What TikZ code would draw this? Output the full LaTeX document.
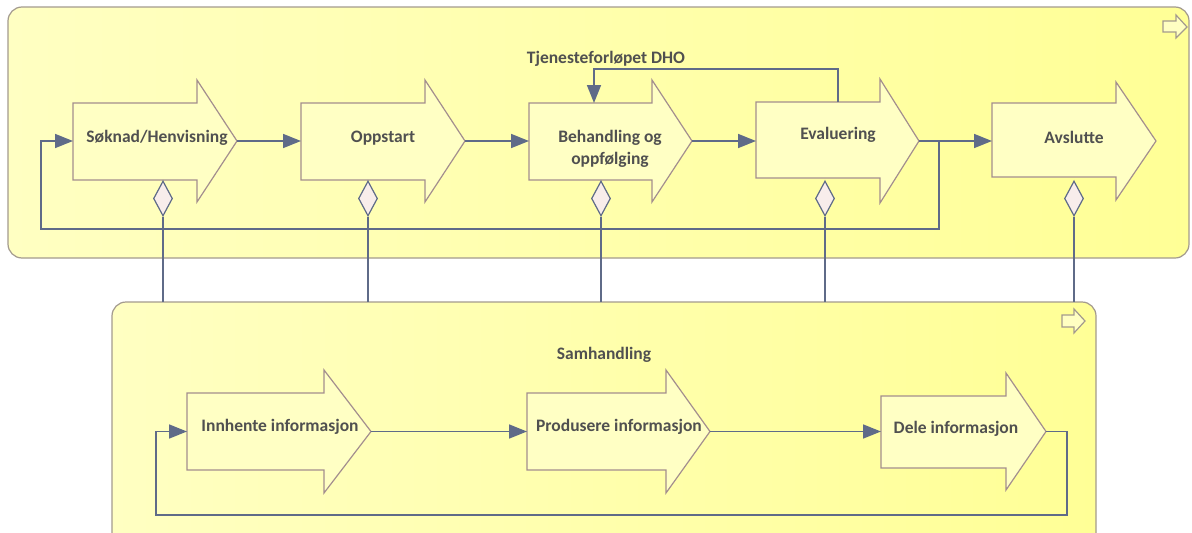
\documentclass[tikz,border=0pt]{standalone}
\usepackage{fontspec}
\setmainfont{Carlito}
\usetikzlibrary{arrows.meta,shapes.geometric}
\definecolor{txt}{HTML}{505050}
\definecolor{connc}{HTML}{5F6B88}
\definecolor{framec}{HTML}{A39A8E}
\definecolor{arrbd}{HTML}{A38E8E}
\definecolor{arrfill}{HTML}{FFFFC4}
\definecolor{lightY}{HTML}{FFFFC2}
\definecolor{midY}{HTML}{FFFFB6}
\definecolor{deepY}{HTML}{FFFF96}
\definecolor{dmfill}{HTML}{F8EDEB}
\newcommand\procarrow[8]{%
  \draw[proc] (#2,#3) -- (#5,#3) -- (#5,#6) -- (#8,{(#6+#7)/2}) -- (#5,#7) -- (#5,#4) -- (#2,#4) -- cycle;
  \coordinate (#1-in) at (#2,{(#6+#7)/2});
  \coordinate (#1-tip) at (#8,{(#6+#7)/2});
}
\begin{document}
\begin{tikzpicture}[x=1pt,y=-1pt,
  container/.style={draw=framec, line width=1.2pt, rounded corners=14pt},
  proc/.style={draw=arrbd, line width=1.2pt, fill=arrfill},
  lbl/.style={font=\bfseries\fontsize{17.5}{21}\selectfont, text=txt, align=center, inner sep=0},
  connl/.style={draw=connc, line width=1.6pt},
  flow/.style={connl, -{Triangle[length=18pt,width=14pt]}},
  agg/.style={diamond, draw=connc, fill=dmfill, line width=1.2pt, minimum width=19pt, minimum height=35pt, inner sep=0},
  icon/.style={draw=framec, line width=1.2pt, fill=lightY},
]
\useasboundingbox (0,0) rectangle (1192,533);
\fill[white] (0,0) rectangle (1192,533);

% top container
\draw[container, left color=lightY, middle color=midY, right color=deepY] (8,7) rectangle (1189,258);
\draw[icon] (1163,21) -- (1176,21) -- (1176,15) -- (1187,27) -- (1176,38) -- (1176,32) -- (1163,32) -- cycle;
\node[lbl] (title1) at (606,59) {Tjenesteforløpet DHO};

% bottom container
\draw[container, left color=lightY, middle color=midY, right color=deepY] (112,302) rectangle (1096,560);
\draw[icon] (1062,315) -- (1074,315) -- (1074,309) -- (1085,321) -- (1074,333) -- (1074,327) -- (1062,327) -- cycle;
\node[lbl] (title2) at (604,355) {Samhandling};

% top processes
\procarrow{sok}{73}{103}{180}{197}{80}{202}{237}
\procarrow{opp}{301}{103}{180}{425}{80}{202}{465}
\procarrow{beh}{529}{103}{180}{652}{80}{202}{692}
\procarrow{eva}{756}{102}{178}{880}{79}{203}{919}
\procarrow{avs}{992}{103}{177}{1116}{82}{200}{1156}
\node[lbl] (sokt) at (157,138) {Søknad/Henvisning};
\node[lbl] (oppt) at (383,138) {Oppstart};
\node[lbl] (beht) at (610,149) {Behandling og\\[1pt]oppfølging};
\node[lbl] (evat) at (838,135) {Evaluering};
\node[lbl] (avst) at (1074,137) {Avslutte};

% bottom processes
\procarrow{inn}{187}{393}{470}{324}{370}{493}{371}
\procarrow{pro}{527}{393}{470}{666}{370}{493}{710}
\procarrow{del}{881}{396}{468}{1006}{373}{490}{1046}
\node[lbl] (innt) at (280,427) {Innhente informasjon};
\node[lbl] (prot) at (619,427) {Produsere informasjon};
\node[lbl] (delt) at (956,429) {Dele informasjon};

% top connectors
\draw[flow] (sok-tip) -- (opp-in);
\draw[flow] (opp-tip) -- (beh-in);
\draw[flow] (beh-tip) -- (eva-in);
\draw[flow] (eva-tip) -- (avs-in);
\coordinate (evtop) at (838,102);
\coordinate (behtop) at (594,103);
\draw[flow] (evtop) -- (838,69) -| (behtop);
\coordinate (branch) at (939,141);
\draw[flow] (branch) -- (939,229) -- (41,229) |- (sok-in);

% bottom connectors
\draw[flow] (inn-tip) -- (pro-in);
\draw[flow] (pro-tip) -- (del-in);
\draw[flow] (del-tip) -- (1067,431.5) -- (1067,515) -- (156,515) |- (inn-in);

% aggregation links
\foreach \n/\x in {1/163,2/368,3/601,4/825,5/1074}{
  \coordinate (b\n) at (\x,302);
  \node[agg] (d\n) at (\x,198.5) {};
  \draw[connl] (d\n.south) -- (b\n);
}
\end{tikzpicture}
\end{document}
